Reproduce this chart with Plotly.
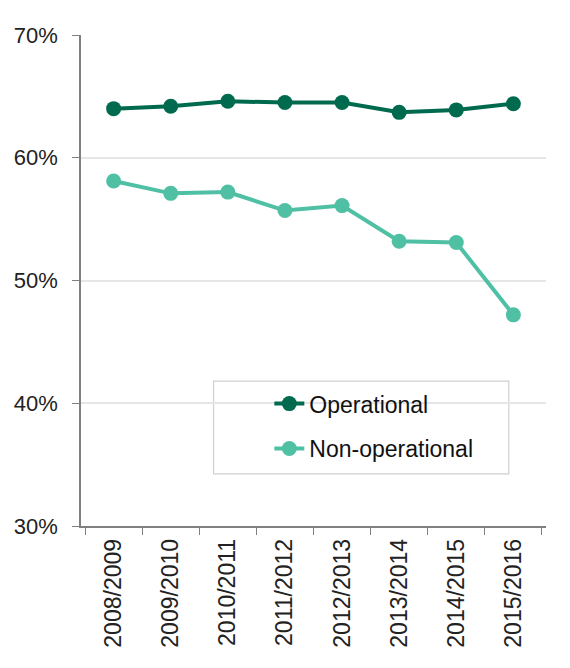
import plotly.graph_objects as go

years = ["2008/2009", "2009/2010", "2010/2011", "2011/2012",
         "2012/2013", "2013/2014", "2014/2015", "2015/2016"]
operational = [64.0, 64.2, 64.6, 64.5, 64.5, 63.7, 63.9, 64.4]
non_operational = [58.1, 57.1, 57.2, 55.7, 56.1, 53.2, 53.1, 47.2]

dark = "#006A4E"
light = "#50C0A5"

fig = go.Figure()
fig.add_trace(go.Scatter(x=years, y=operational, name="Operational",
                         mode="lines+markers", legendgroup="a",
                         line=dict(color=dark, width=4),
                         marker=dict(color=dark, size=15)))
fig.add_trace(go.Scatter(x=years, y=non_operational, name="Non-operational",
                         mode="lines+markers", legendgroup="b",
                         line=dict(color=light, width=4),
                         marker=dict(color=light, size=15)))

font = "Liberation Sans, Arial, sans-serif"
fig.update_layout(
    width=570, height=668,
    margin=dict(l=73, r=32, t=27, b=150, autoexpand=False),
    paper_bgcolor="white", plot_bgcolor="white",
    font=dict(family=font, size=21, color="#222222"),
    showlegend=True,
    legend=dict(x=0.405, y=0.293, xanchor="left", yanchor="top",
                borderwidth=0, bgcolor="rgba(0,0,0,0)",
                font=dict(size=23, color="#111111"),
                traceorder="grouped", tracegroupgap=12),
    shapes=[dict(type="rect", xref="paper", yref="paper",
                 x0=0.285, x1=0.920, y0=0.106, y1=0.295,
                 line=dict(color="#d0d0d0", width=1.2),
                 fillcolor="white", layer="below")],
    xaxis=dict(type="category", tickangle=-90, showgrid=False,
               showline=True, linecolor="#808080", linewidth=1.5,
               ticks="outside", ticklen=7, tickcolor="#808080",
               tickson="boundaries", tickfont=dict(size=23),
               ticklabelstandoff=2, automargin=False),
    yaxis=dict(range=[30, 70], dtick=10, ticksuffix="%",
               showgrid=True, gridcolor="#e6e6e6", gridwidth=1.5,
               showline=True, linecolor="#808080", linewidth=1.5,
               ticks="outside", ticklen=7, tickcolor="#808080",
               zeroline=False, tickfont=dict(size=22),
               ticklabelstandoff=10, automargin=False),
)

fig.write_html("out.html")
